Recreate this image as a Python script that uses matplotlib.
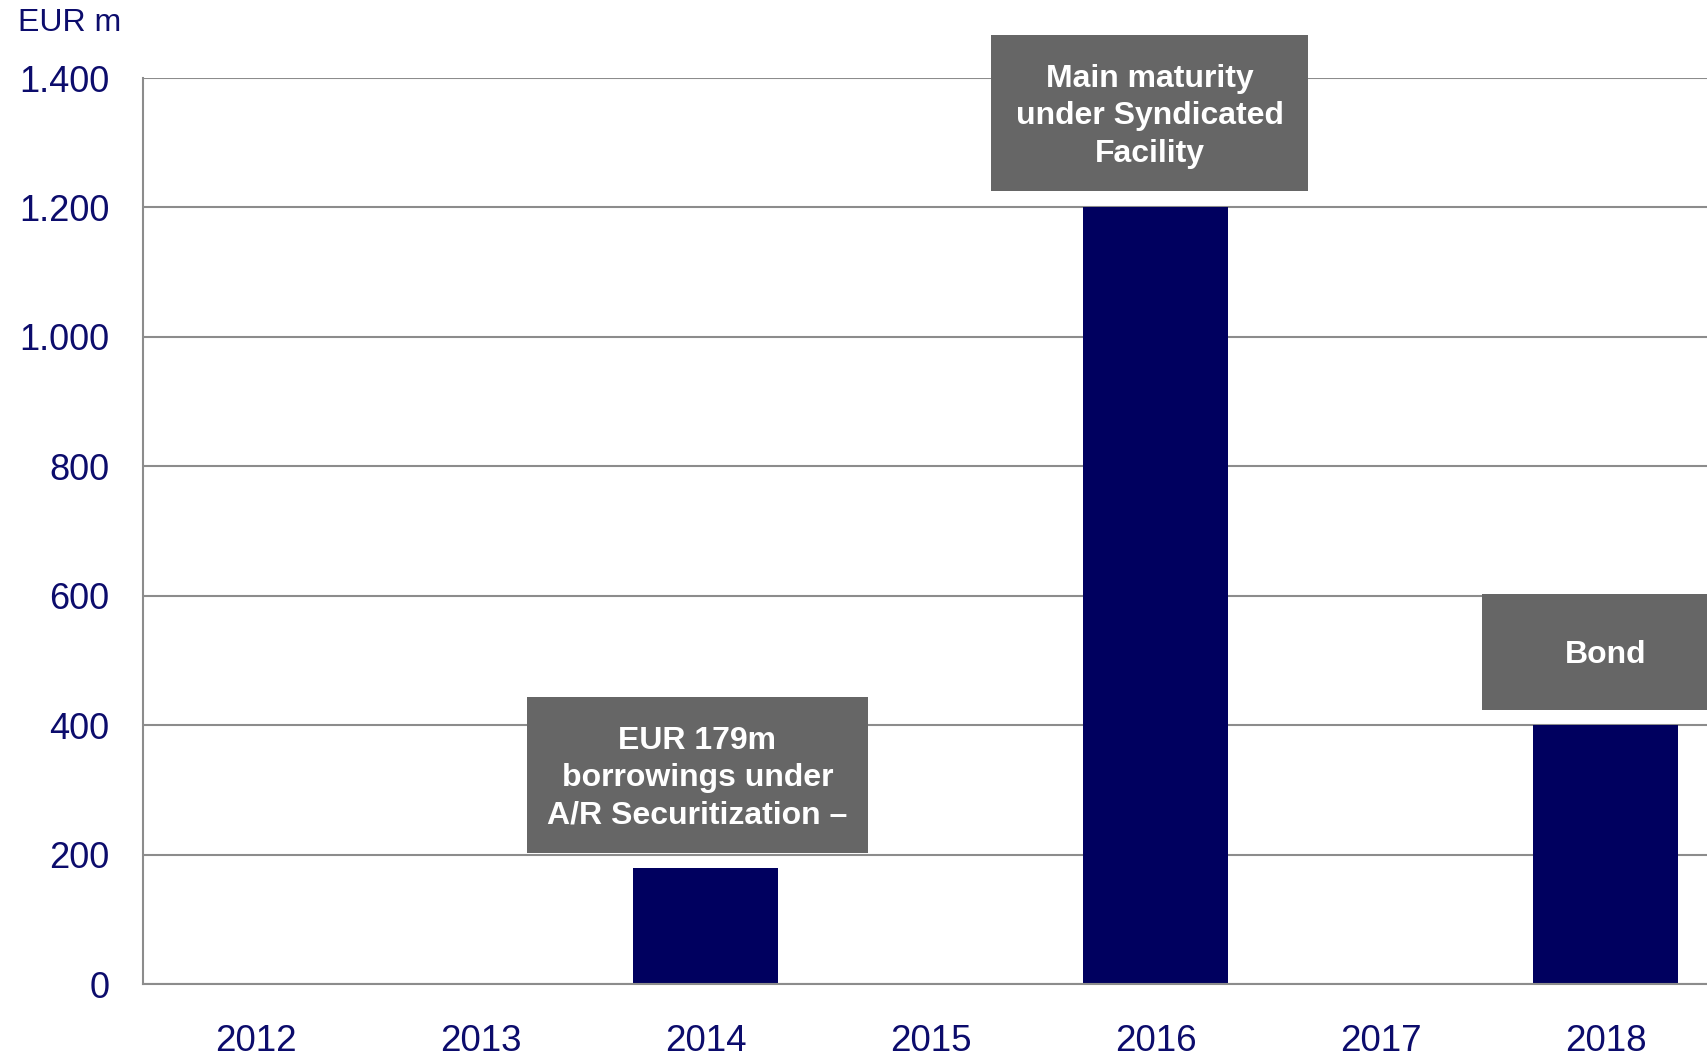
import matplotlib.pyplot as plt
from matplotlib.patches import Rectangle

plt.rcParams['font.family'] = ['Liberation Sans', 'DejaVu Sans']

# data
years = ['2012', '2013', '2014', '2015', '2016', '2017', '2018']
maturities = [0, 0, 179, 0, 1200, 0, 400]
y_ticks = [0, 200, 400, 600, 800, 1000, 1200, 1400]
y_tick_labels = ['0', '200', '400', '600', '800', '1.000', '1.200', '1.400']

# callout boxes: (text, x center, box width, y bottom, y top)
callouts = [
    ('EUR 179m\nborrowings under\nA/R Securitization \u2013', 1.964, 1.516, 202, 444),
    ('Main maturity\nunder Syndicated\nFacility', 3.973, 1.41, 1225, 1467),
    ('Bond', 6.0, 1.1, 424, 603),
]

navy = '#00005f'
text_navy = '#0c0c6c'
grid_gray = '#8c8c8c'
box_gray = '#666666'

fig = plt.figure(figsize=(17.08, 10.59), dpi=100)
ax = fig.add_axes([0.0837, 0.0708, 0.9163, 0.8555])

x = range(len(years))
ax.bar(x, maturities, width=0.644, color=navy, zorder=3)

ax.set_xlim(-0.5, 6.455)
ax.set_ylim(0, 1400)
ax.set_yticks(y_ticks)
ax.set_yticklabels(y_tick_labels)
ax.set_xticks(list(x))
ax.set_xticklabels(years)
ax.tick_params(axis='y', length=0, pad=24, labelsize=26, labelcolor=text_navy)
ax.tick_params(axis='x', length=0, pad=29, labelsize=26.5, labelcolor=text_navy)

ax.yaxis.grid(True, color=grid_gray, linewidth=1.5, zorder=0)
ax.set_axisbelow(True)
for side in ['top', 'right']:
    ax.spines[side].set_visible(False)
for side in ['left', 'bottom']:
    ax.spines[side].set_color(grid_gray)
    ax.spines[side].set_linewidth(1.5)
    ax.spines[side].set_zorder(4)

for label, xc, w, y0, y1 in callouts:
    ax.add_patch(Rectangle((xc - w / 2, y0), w, y1 - y0, facecolor=box_gray,
                           edgecolor='none', zorder=5, clip_on=False))
    ax.text(xc, (y0 + y1) / 2 - 5, label, ha='center', va='center', color='white',
            fontsize=23, fontweight='bold', linespacing=1.33, zorder=6,
            clip_on=False)

fig.text(0.0105, 0.978, 'EUR m', ha='left', va='center', fontsize=23,
         color=text_navy)

fig.savefig('out.png', dpi=100)
